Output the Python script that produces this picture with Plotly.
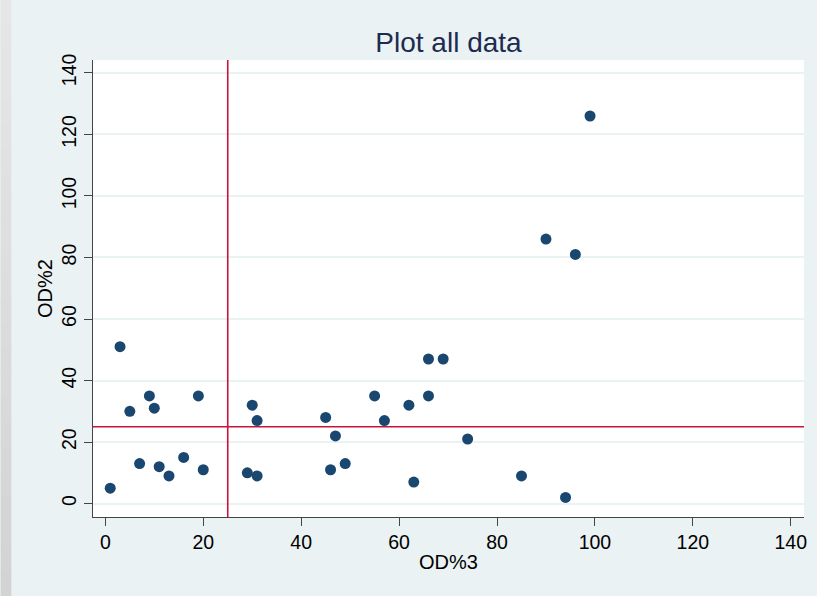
import plotly.graph_objects as go

# Data
od3 = [1, 3, 5, 7, 9, 10, 11, 13, 16, 19, 20, 29, 31, 30, 31, 45, 46, 47, 49,
       55, 57, 62, 63, 66, 66, 69, 74, 85, 90, 94, 96, 99]
od2 = [5, 51, 30, 13, 35, 31, 12, 9, 15, 35, 11, 10, 9, 32, 27, 28, 11, 22, 13,
       35, 27, 32, 7, 47, 35, 47, 21, 9, 86, 2, 81, 126]
ref_x = 25
ref_y = 25
tick_vals = [0, 20, 40, 60, 80, 100, 120, 140]
tick_text = [str(v) for v in tick_vals]

W, H = 817, 596
L, R, T, B = 92.7, 806.7, 60.0, 516.7

BG = "#EAF2F3"
NAVY = "#1A476F"
RED = "#C8143C"
FONT = "Liberation Sans, Arial, sans-serif"

fig = go.Figure()
fig.add_trace(go.Scatter(
    x=od3, y=od2, mode="markers",
    marker=dict(color=NAVY, size=11, line=dict(width=0)),
    showlegend=False, hoverinfo="x+y",
))

shapes = []
pw = R - L
ph = B - T
def px2paper_x(px):
    return (px - L) / pw
def py2paper_y(py):
    return (B - py) / ph
# left frame strip, lighter at top, darker at bottom
n = 24
for i in range(n):
    t = i / (n - 1)
    v = int(round(0xE6 + (0xD3 - 0xE6) * t))
    g = "#%02X%02X%02X" % (v, v, v)
    y0 = H * i / n
    y1 = H * (i + 1) / n + 0.5
    shapes.append(dict(type="rect", xref="paper", yref="paper",
                       x0=px2paper_x(0), x1=px2paper_x(10.7),
                       y0=py2paper_y(y1), y1=py2paper_y(y0),
                       fillcolor=g, line=dict(width=0), layer="below"))
shapes.append(dict(type="line", xref="x", yref="paper", x0=ref_x, x1=ref_x,
                   y0=0, y1=1, line=dict(color=RED, width=1.6), layer="above"))
shapes.append(dict(type="line", xref="paper", yref="y", x0=0, x1=1,
                   y0=ref_y, y1=ref_y, line=dict(color=RED, width=1.6), layer="above"))

fig.update_layout(
    width=W, height=H,
    margin=dict(l=L, r=W - R, t=T, b=H - B, pad=0),
    paper_bgcolor=BG, plot_bgcolor="white",
    font=dict(family=FONT, color="#000000"),
    title=dict(text="Plot all data", x=0.5, xref="paper", xanchor="center",
               y=1 - 42 / H, yref="container", yanchor="middle",
               font=dict(family=FONT, size=28, color="#1E2B50")),
    shapes=shapes,
    xaxis=dict(range=[-2.52, 142.7], tickvals=tick_vals, ticktext=tick_text,
               showgrid=False, zeroline=False, showline=True,
               linecolor="#444444", linewidth=1, ticks="outside", ticklen=8,
               tickcolor="#444444", tickwidth=1,
               tickfont=dict(family=FONT, size=19.5, color="#000000"),
               title=dict(text="OD%3", font=dict(family=FONT, size=20, color="#000000"),
                          standoff=2),
               fixedrange=True),
    yaxis=dict(range=[-4.36, 144.2], tickvals=tick_vals, ticktext=tick_text,
               showgrid=True, gridcolor=BG, gridwidth=1.5,
               zeroline=False, showline=True,
               linecolor="#444444", linewidth=1, ticks="outside", ticklen=8,
               tickcolor="#444444", tickwidth=1, tickangle=-90,
               tickfont=dict(family=FONT, size=19.5, color="#000000"),
               title=dict(text="OD%2", font=dict(family=FONT, size=20, color="#000000"),
                          standoff=0),
               fixedrange=True),
)

fig.write_html(
    "out.html",
    config={"displayModeBar": False},
    post_script="document.body.style.margin='0';document.body.style.overflow='hidden';",
)
